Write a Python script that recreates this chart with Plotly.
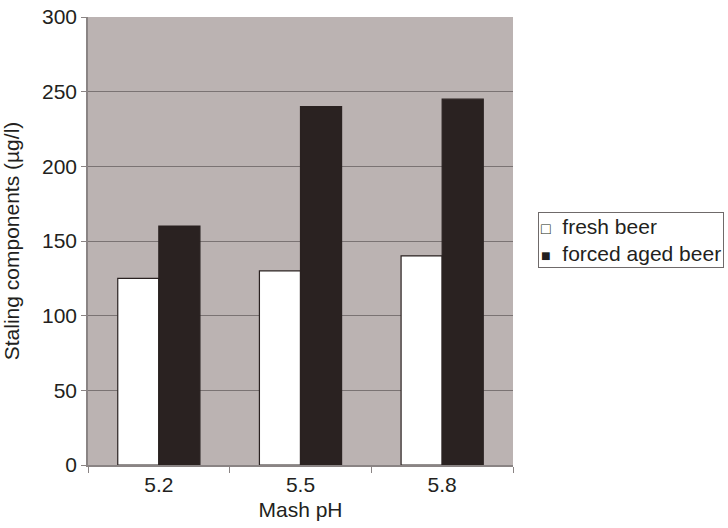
import plotly.graph_objects as go

categories = ["5.2", "5.5", "5.8"]
fresh_beer = [125, 130, 140]
forced_aged_beer = [160, 240, 245]
series_names = ["fresh beer", "forced aged beer"]
y_ticks = [0, 50, 100, 150, 200, 250, 300]

font_family = "Liberation Sans, Arial, Helvetica, sans-serif"
text_color = "#231f20"
fs = 21

fig = go.Figure()
fig.add_trace(go.Bar(
    x=categories, y=fresh_beer, name=series_names[0],
    marker=dict(color="#ffffff", line=dict(color="#2a2221", width=1.2)),
))
fig.add_trace(go.Bar(
    x=categories, y=forced_aged_beer, name=series_names[1],
    marker=dict(color="#2a2221", line=dict(color="#2a2221", width=1.2)),
))

legend_text = (
    '<span style="font-size:16px">□</span>&nbsp; ' + series_names[0] + '<br>'
    + '<span style="font-size:16px">■</span>&nbsp; ' + series_names[1]
)

fig.update_layout(
    width=728, height=528,
    margin=dict(l=88, r=215, t=17, b=63, autoexpand=False),
    paper_bgcolor="#ffffff",
    plot_bgcolor="#bbb3b2",
    barmode="group",
    bargap=0.42,
    bargroupgap=0,
    font=dict(family=font_family, size=fs, color=text_color),
    showlegend=False,
    annotations=[dict(
        text=legend_text, xref="paper", yref="paper",
        x=1.0588, y=0.5647, xanchor="left", yanchor="top",
        align="left", showarrow=False,
        bordercolor="#6f6a6a", borderwidth=1, borderpad=2,
        bgcolor="#ffffff",
        font=dict(size=fs, color=text_color, family=font_family),
    )],
    xaxis=dict(
        title=dict(text="Mash pH", font=dict(size=fs), standoff=7),
        automargin=False,
        showline=True, linecolor="#8a8484", linewidth=1.5,
        ticks="outside", tickson="boundaries", ticklen=6, tickcolor="#8a8484",
        tickfont=dict(size=fs),
        showgrid=False,
    ),
    yaxis=dict(
        title=dict(text="Staling components (µg/l)", font=dict(size=fs), standoff=18),
        automargin=False,
        range=[0, 300], tickvals=y_ticks,
        showline=True, linecolor="#8a8484", linewidth=1.5,
        ticks="outside", ticklen=5, tickcolor="#8a8484",
        tickfont=dict(size=fs),
        showgrid=True, gridcolor="#7a7373", gridwidth=1,
        zeroline=False,
    ),
)

fig.write_html(
    "out.html",
    config={"displayModeBar": False},
    post_script="document.body.style.margin='0';",
)
